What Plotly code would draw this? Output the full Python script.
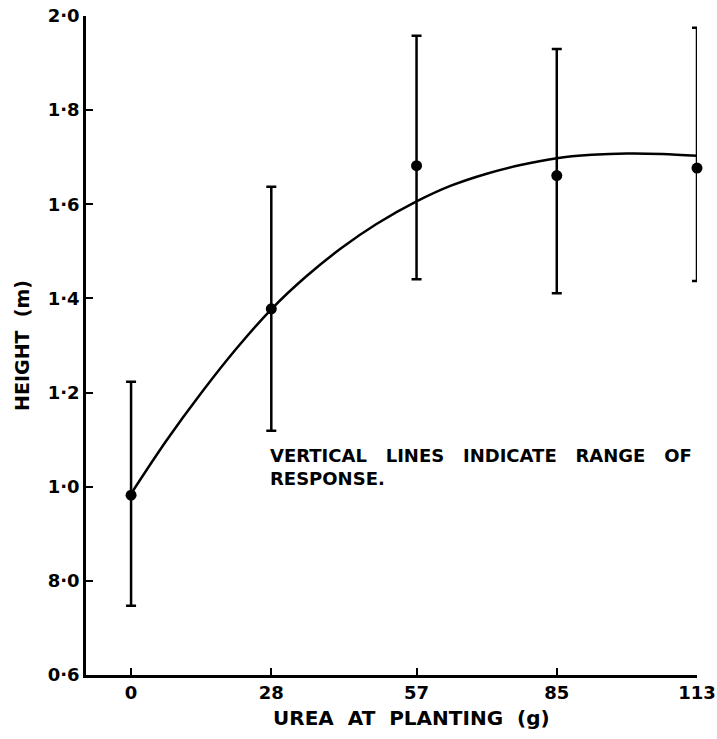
import plotly.graph_objects as go

# Data
urea = [0, 28, 57, 85, 113]
height_mean = [0.982, 1.378, 1.682, 1.661, 1.677]
height_max = [1.223, 1.637, 1.958, 1.930, 1.975]
height_min = [0.747, 1.119, 1.441, 1.411, 1.437]

# fitted response curve
curve_x = [0, 7, 14, 21, 28, 35, 42, 49, 57, 64, 71, 78, 85, 92, 99, 106, 113]
curve_y = [0.985, 1.097, 1.199, 1.293, 1.377, 1.447, 1.507, 1.558, 1.606,
           1.640, 1.665, 1.684, 1.698, 1.705, 1.708, 1.707, 1.703]

y_tickvals = [0.6, 0.8, 1.0, 1.2, 1.4, 1.6, 1.8, 2.0]
y_ticktext = ["0·6", "8·0", "1·0", "1·2", "1·4", "1·6", "1·8", "2·0"]
x_tickvals = [0, 28, 57, 85, 113]
x_ticktext = ["0", "28", "57", "85", "113"]

err_plus = [mx - m for mx, m in zip(height_max, height_mean)]
err_minus = [m - mn for m, mn in zip(height_mean, height_min)]

FONT = "DejaVu Sans, sans-serif"
SP3 = "\u00a0\u00a0\u00a0"
SP2 = "\u00a0\u00a0"

fig = go.Figure()
fig.add_trace(go.Scatter(
    x=curve_x, y=curve_y, mode="lines",
    line=dict(color="black", width=2.5, shape="spline", smoothing=1.0),
    hoverinfo="skip", cliponaxis=False,
))
fig.add_trace(go.Scatter(
    x=urea, y=height_mean, mode="markers",
    marker=dict(color="black", size=11),
    error_y=dict(type="data", symmetric=False, array=err_plus, arrayminus=err_minus,
                 color="black", thickness=2.5, width=5),
    cliponaxis=False,
))

fig.add_annotation(
    x=27.3, y=1.092, xref="x", yref="y", xanchor="left", yanchor="top",
    align="left", showarrow=False,
    text=SP3.join(["VERTICAL", "LINES", "INDICATE", "RANGE", "OF"]) + "<br>RESPONSE.",
    font=dict(family=FONT, size=18, color="black", weight="bold"),
)
# x-axis title (placed slightly right of centre, as in the reference)
fig.add_annotation(
    x=0.532, y=-0.065, xref="paper", yref="paper", xanchor="center", yanchor="middle",
    showarrow=False,
    text=SP2.join(["UREA", "AT", "PLANTING", "(g)"]),
    font=dict(family=FONT, size=20, color="black", weight="bold"),
)

fig.update_layout(
    width=717, height=739,
    margin=dict(l=86, r=20, t=16, b=64),
    paper_bgcolor="white", plot_bgcolor="white",
    showlegend=False,
    font=dict(family=FONT, color="black", size=16, weight="bold"),
)
fig.update_xaxes(
    range=[-9, 113], tickvals=x_tickvals, ticktext=x_ticktext, automargin=False,
    showgrid=False, zeroline=False, showline=True, linecolor="black", linewidth=2.5,
    ticks="inside", ticklen=7, tickwidth=2, tickcolor="black",
    tickfont=dict(family=FONT, size=18, color="black", weight="bold"),
)
fig.update_yaxes(
    range=[0.6, 2.0], tickvals=y_tickvals, ticktext=y_ticktext, automargin=False,
    showgrid=False, zeroline=False, showline=True, linecolor="black", linewidth=2.5,
    ticks="inside", ticklen=7, tickwidth=2, tickcolor="black",
    tickfont=dict(family=FONT, size=18, color="black", weight="bold"),
    title=dict(text="HEIGHT" + SP2 + "(m)", standoff=14,
               font=dict(family=FONT, size=19, color="black", weight="bold")),
)

fig.write_html("out.html", config={"displayModeBar": False},
               post_script="document.body.style.margin='0';")
